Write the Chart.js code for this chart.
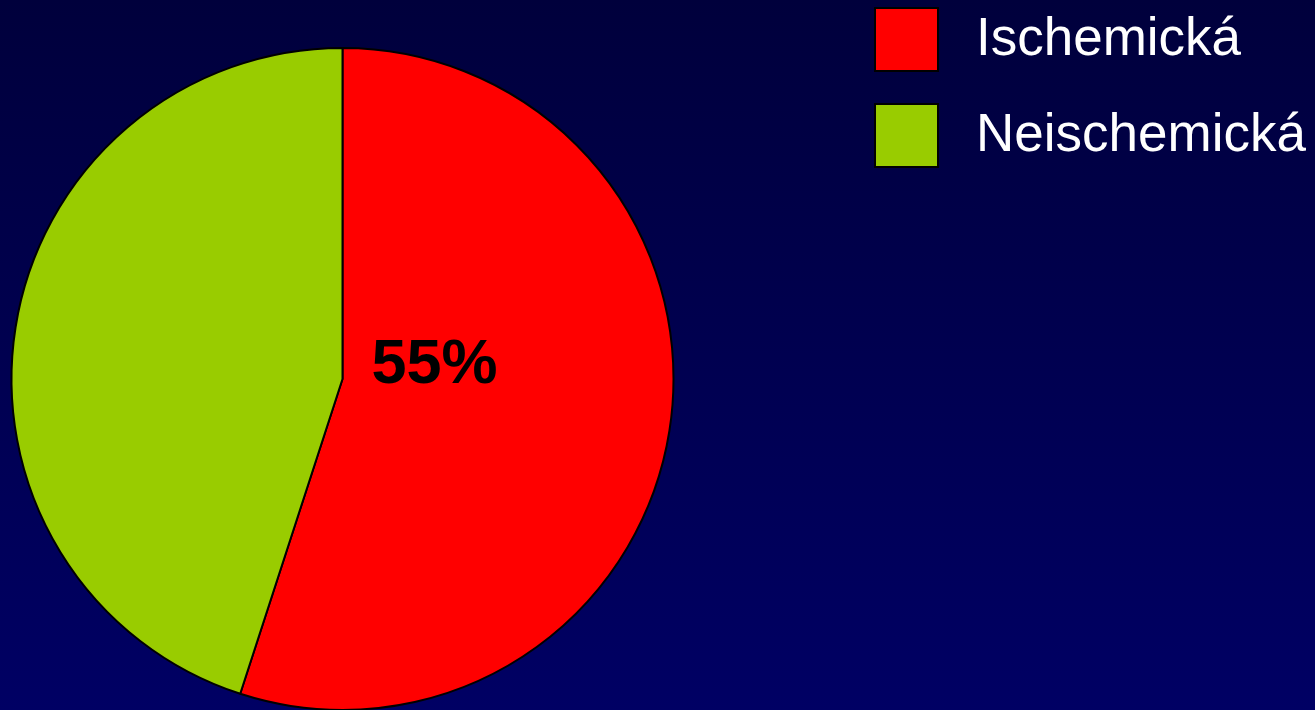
<!DOCTYPE html>
<html>
<head>
<meta charset="utf-8">
<script src="https://cdn.jsdelivr.net/npm/chart.js@4/dist/chart.umd.min.js"></script>
<style>
  html, body { margin: 0; padding: 0; overflow: hidden; }
  body { width: 1315px; height: 710px; background: linear-gradient(#00003c, #000064); }
  #wrap { position: relative; width: 1315px; height: 730px; }
</style>
</head>
<body>
<div id="wrap"><canvas id="pie"></canvas></div>
<script>
const categories = ['Ischemická', 'Neischemická'];
const values = [55, 45];
const colors = ['#ff0000', '#99cc00'];
const shownLabel = '55%';

// legend + percentage label drawn on the canvas
const extras = {
  id: 'extras',
  afterDraw(chart) {
    const ctx = chart.ctx;
    ctx.save();
    // legend
    categories.forEach((name, i) => {
      const y = 8 + i * 96;
      ctx.fillStyle = colors[i];
      ctx.fillRect(875, y, 63, 63);
      ctx.strokeStyle = '#000';
      ctx.lineWidth = 2;
      ctx.strokeRect(875, y, 63, 63);
      ctx.fillStyle = '#fff';
      ctx.font = '53px "Liberation Sans", Arial, sans-serif';
      ctx.textBaseline = 'middle';
      ctx.fillText(name, 976, y + 32);
    });
    // value label
    const arc = chart.getDatasetMeta(0).data[0];
    ctx.fillStyle = '#000';
    ctx.font = 'bold 63px "Liberation Sans", Arial, sans-serif';
    ctx.textBaseline = 'alphabetic';
    ctx.fillText(shownLabel, arc.x + 29, arc.y + 4);
    ctx.restore();
  }
};

new Chart(document.getElementById('pie'), {
  type: 'pie',
  data: {
    labels: categories,
    datasets: [{
      data: values,
      backgroundColor: colors,
      borderColor: '#000',
      borderWidth: 2
    }]
  },
  options: {
    responsive: true,
    maintainAspectRatio: false,
    animation: false,
    layout: { padding: { left: 10, right: 640, top: 47, bottom: 19 } },
    plugins: {
      legend: { display: false },
      tooltip: { enabled: false }
    }
  },
  plugins: [extras]
});
</script>
</body>
</html>
